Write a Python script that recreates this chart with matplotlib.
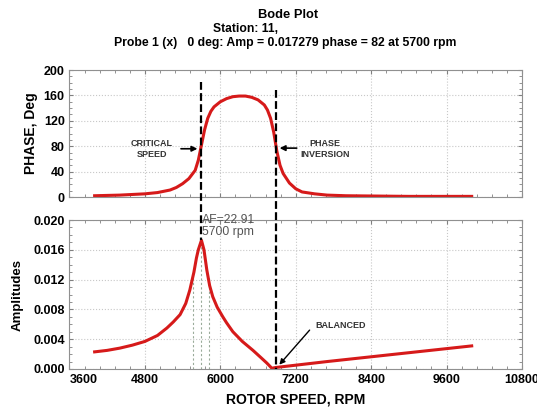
import numpy as np
import matplotlib
matplotlib.use("Agg")
import matplotlib.pyplot as plt
from matplotlib.lines import Line2D
from matplotlib.ticker import AutoMinorLocator

plt.rcParams['font.family'] = ['Liberation Sans', 'DejaVu Sans']

# dati
rpm_phase = [4000, 4400, 4800, 5000, 5200, 5300, 5400, 5500, 5600, 5650, 5700, 5750, 5800,
             5850, 5900, 6000, 6100, 6200, 6300, 6400, 6500, 6600, 6700, 6750, 6800, 6850,
             6900, 6950, 7000, 7100, 7200, 7300, 7500, 7700, 8000, 9000, 10000]
phase = [2, 3, 5, 7, 11, 15, 21, 29, 42, 58, 82, 106, 124,
         135, 142, 150, 155, 158, 159, 159, 157, 153, 145, 137, 124, 102,
         72, 50, 37, 22, 13, 8, 5, 3, 2, 1, 1]

rpm_amp = [4000, 4200, 4400, 4600, 4800, 5000, 5150, 5250, 5360, 5450, 5515, 5580,
           5620, 5650, 5700, 5740, 5785, 5830, 5880, 5950, 6040, 6100, 6200, 6350,
           6520, 6650, 6740, 6820, 6880, 7700, 10000]
amp = [0.0023, 0.0025, 0.0028, 0.0032, 0.0037, 0.0045, 0.0055, 0.0063, 0.0073, 0.0088, 0.0106, 0.0130,
       0.0149, 0.0160, 0.01728, 0.0160, 0.0133, 0.0112, 0.0097, 0.0083, 0.0070, 0.0062, 0.0050, 0.0037,
       0.0025, 0.0015, 0.0008, 0.0001, 0.0002, 0.0010, 0.0031]

# punti a mezza potenza
hp_rpm = [5560, 5700, 5820]
hp_top = [0.0122, 0.01728, 0.0122]

critical_rpm = 5700
inversion_rpm = 6880

x_ticks = [3600, 4800, 6000, 7200, 8400, 9600, 10800]
phase_ticks = [0, 40, 80, 120, 160, 200]
amp_ticks = [0.000, 0.004, 0.008, 0.012, 0.016, 0.020]

red = "#d61a1a"
fig = plt.figure(figsize=(5.37, 4.09), dpi=100)
ax1 = fig.add_axes([0.1294, 0.5183, 0.8426, 0.3105])
ax2 = fig.add_axes([0.1294, 0.0978, 0.8426, 0.3643])

def style(ax):
    ax.set_xlim(3600, 10800)
    ax.set_xticks(x_ticks)
    ax.xaxis.set_minor_locator(AutoMinorLocator(5))
    ax.yaxis.set_minor_locator(AutoMinorLocator(4))
    ax.grid(True, which="major", color="#c8c8c8", linestyle=":", linewidth=0.8)
    ax.tick_params(which="both", direction="in", top=True, right=True, color="#808080")
    ax.tick_params(which="major", length=3, labelsize=9)
    ax.tick_params(which="minor", length=2)
    for s in ax.spines.values():
        s.set_color("#909090")
        s.set_linewidth(0.8)
    for lab in ax.get_xticklabels() + ax.get_yticklabels():
        lab.set_fontweight("bold")

# fase
ax1.plot(rpm_phase, phase, color=red, lw=2.2)
ax1.set_ylim(0, 200)
ax1.set_yticks(phase_ticks)
style(ax1)
ax1.tick_params(labelbottom=False)
ax1.set_ylabel("PHASE, Deg", fontsize=10, fontweight="bold", labelpad=4)

ax1.annotate("", xy=(critical_rpm - 20, 76), xytext=(5330, 76),
             arrowprops=dict(arrowstyle="-|>", color="black", lw=1.2, mutation_scale=8))
ax1.text(4910, 76, "CRITICAL\nSPEED", ha="center", va="center", fontsize=6.5,
         fontweight="bold", color="#333333", linespacing=1.3)
ax1.annotate("", xy=(inversion_rpm + 20, 77), xytext=(7260, 77),
             arrowprops=dict(arrowstyle="-|>", color="black", lw=1.2, mutation_scale=8))
ax1.text(7660, 75, "PHASE\nINVERSION", ha="center", va="center", fontsize=6.5,
         fontweight="bold", color="#333333", linespacing=1.3)

# ampiezza
ax2.vlines(hp_rpm, 0, hp_top, colors="#9aab9a", linestyles=(0, (2, 2)), lw=0.8)
ax2.plot(rpm_amp, amp, color=red, lw=2.2)
ax2.set_ylim(0, 0.020)
ax2.set_yticks(amp_ticks)
ax2.set_yticklabels([f"{v:.3f}" for v in amp_ticks])
style(ax2)
ax2.xaxis.get_majorticklabels()[0].set_horizontalalignment("left")
ax2.set_ylabel("Amplitudes", fontsize=9.5, fontweight="bold", labelpad=7)
ax2.set_xlabel("ROTOR SPEED, RPM", fontsize=10, fontweight="bold", labelpad=5)

ax2.text(critical_rpm + 10, 0.0192, "AF=22.91\n5700 rpm", ha="left", va="center",
         fontsize=8.8, color="#555555", linespacing=1.05)
ax2.annotate("", xy=(inversion_rpm + 30, 0.0003), xytext=(7450, 0.0055),
             arrowprops=dict(arrowstyle="-|>", color="black", lw=1.0, mutation_scale=8))
ax2.text(7520, 0.0059, "BALANCED", ha="left", va="center", fontsize=6.5,
         fontweight="bold", color="#333333")

# linee verticali tratteggiate attraverso i due grafici
inv = fig.transFigure.inverted()
def fig_y(ax, x, y):
    return inv.transform(ax.transData.transform((x, y)))[1]

y_peak = fig_y(ax2, critical_rpm, amp[rpm_amp.index(critical_rpm)])
y_bot = fig_y(ax2, inversion_rpm, 0)
blend = matplotlib.transforms.blended_transform_factory(ax1.transData, fig.transFigure)
fig.add_artist(Line2D([critical_rpm, critical_rpm], [1 - 82 / 409, y_peak], transform=blend,
                      color="black", lw=1.6, linestyle=(0, (3.5, 1.5))))
fig.add_artist(Line2D([inversion_rpm, inversion_rpm], [1 - 90 / 409, y_bot], transform=blend,
                      color="black", lw=1.6, linestyle=(0, (3.5, 1.5))))

# titoli
fig.text(0.536, 1 - 15 / 409, "Bode Plot", ha="center", va="center", fontsize=9.3, fontweight="bold")
fig.text(0.457, 1 - 29 / 409, "Station: 11,", ha="center", va="center", fontsize=8.7, fontweight="bold")
fig.text(0.531, 1 - 43 / 409, "Probe 1 (x)   0 deg: Amp = 0.017279 phase = 82 at 5700 rpm",
         ha="center", va="center", fontsize=8.8, fontweight="bold")

fig.savefig("out.png", dpi=100)
